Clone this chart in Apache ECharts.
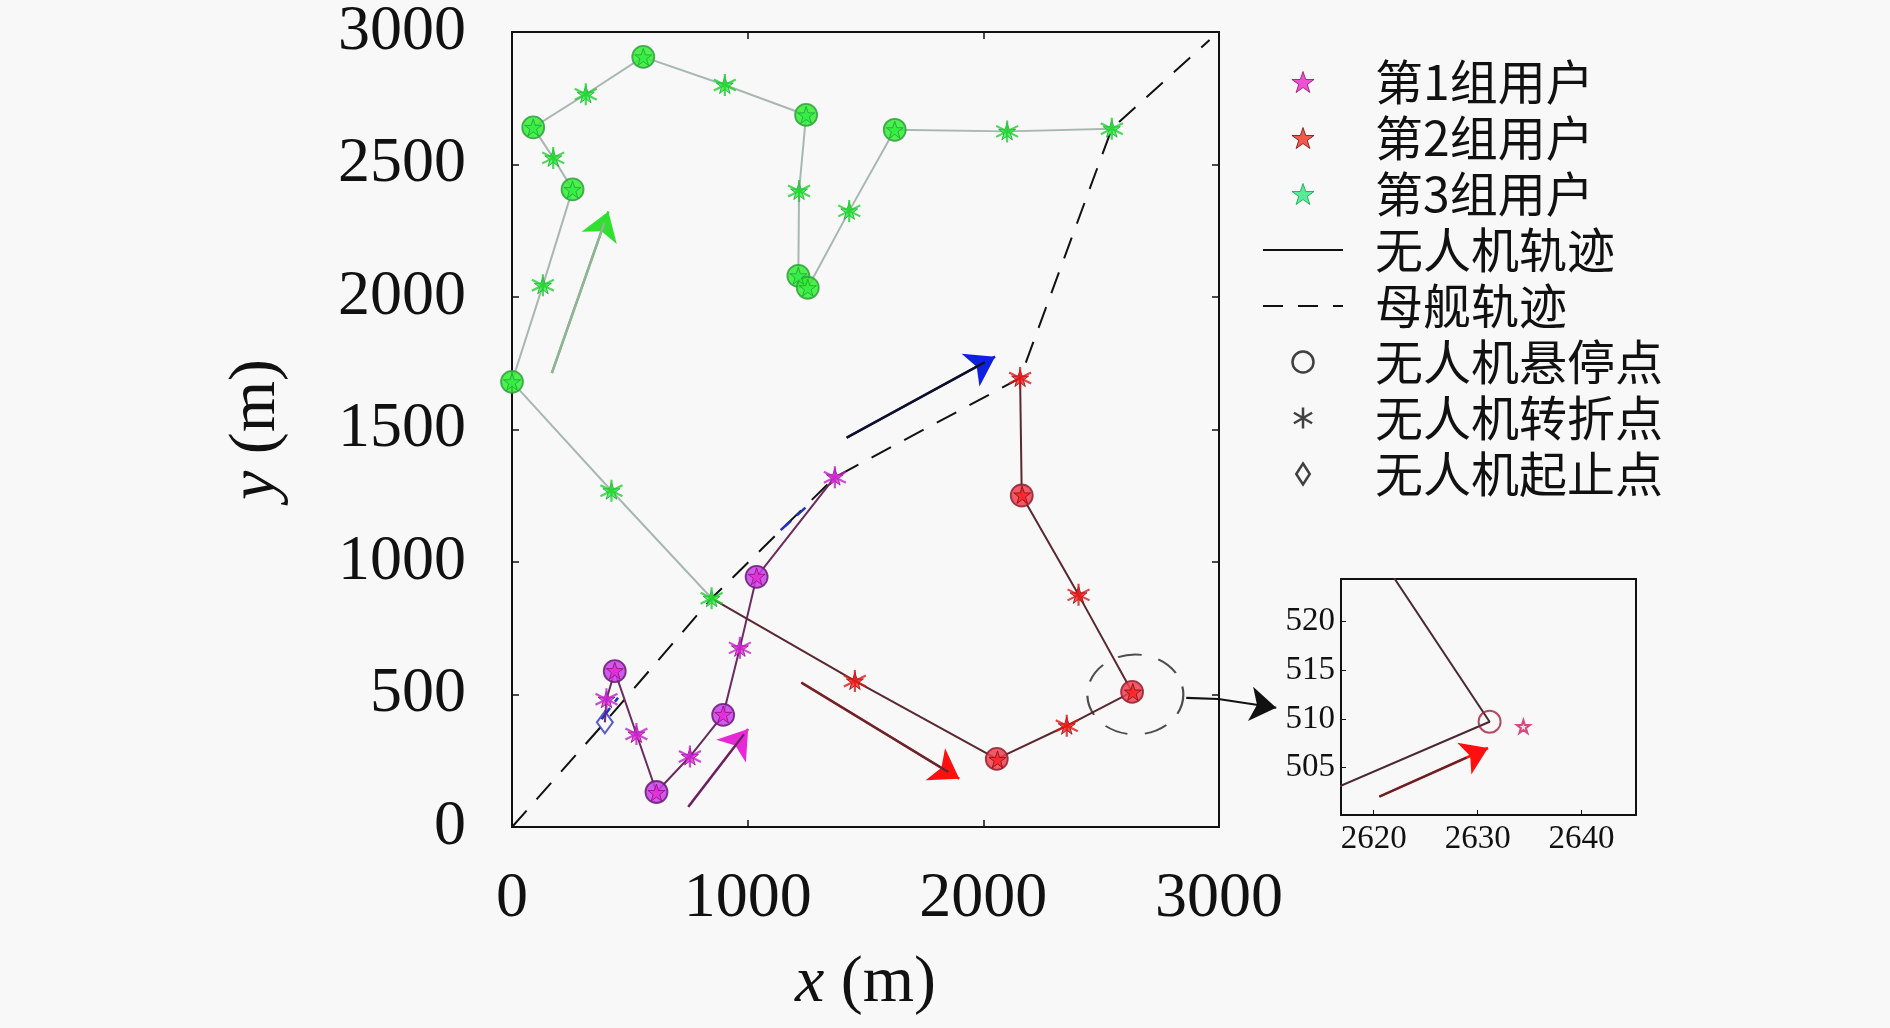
<!DOCTYPE html>
<html><head><meta charset="utf-8">
<script src="https://cdn.jsdelivr.net/npm/echarts@6/dist/echarts.min.js"></script>
<style>html,body{margin:0;padding:0;background:#f8f8f8}#c{width:1890px;height:1028px}</style>
</head><body><div id="c"></div><script>
// ---------- data ----------
const xTickValues = [0, 1000, 2000, 3000];
const yTickValues = [0, 500, 1000, 1500, 2000, 2500, 3000];
const insetXTicks = [2620, 2630, 2640];
const insetYTicks = [505, 510, 515, 520];

const motherPath = [[0,0],[394,395],[847,863],[1370,1320],[2156,1694],[2545,2635],[2960,2970]];
const motherBlueSegs = [[[380,407],[450,488]], [[1140,1120],[1245,1205]]];

const uav1Path  = [[394,395],[401,482],[436,588],[528,351],[613,132],[755,266],[896,423],[967,676],[1038,944],[1370,1320]];
const uav1Hover = [[436,588],[613,132],[896,423],[1038,944]];
const uav1Turn  = [[401,482],[528,351],[755,266],[967,676],[1370,1320]];
const uav1Start = [[394,395]];
const users1    = [[436,590],[613,130],[896,425],[1038,946],[401,482],[528,351],[755,266],[967,676],[1370,1322]];

const uav2Path  = [[847,863],[1455,551],[2057,257],[2354,382],[2631.15,509.7],[2404,876],[2163,1251],[2156,1694]];
const uav2Hover = [[2057,257],[2631.15,509.7],[2163,1251]];
const uav2Turn  = [[1455,551],[2354,382],[2404,876],[2156,1694]];
const users2    = [[1455,551],[2060,255],[2354,382],[2634.4,509.2],[2404,876],[2165,1253],[2156,1694]];

const uav3Path  = [[847,863],[422,1269],[0,1680],[131,2044],[257,2406],[175,2525],[90,2640],[313,2765],[557,2906],[903,2800],[1248,2687],[1218,2400],[1215,2080],[1255,2035],[1431,2325],[1624,2631],[2101,2625],[2545,2635]];
const uav3Hover = [[0,1680],[257,2406],[90,2640],[557,2906],[1248,2687],[1215,2080],[1255,2035],[1624,2631]];
const uav3Turn  = [[847,863],[422,1269],[131,2044],[175,2525],[313,2765],[903,2800],[1218,2400],[1431,2325],[2101,2625],[2545,2635]];
const users3    = [[847,863],[422,1269],[0,1680],[131,2044],[257,2406],[175,2525],[90,2640],[313,2765],[557,2906],[903,2800],[1248,2687],[1218,2400],[1215,2080],[1255,2035],[1431,2325],[1624,2631],[2101,2625],[2545,2635]];

const arrow1    = [[748,76],[1002,370]];
const arrow2    = [[1228,545],[1898,182]];
const arrow3    = [[169,1713],[409,2323]];
const arrowShip = [[1420,1469],[2050,1775]];
const insetArrow = [[2620.55,502.0],[2631.0,507.0]];
const zoomCenter = [[2645,500]];
const zoomLink  = [[2861,487],[2997,483],[3243,450]];

const legendNames = ['第1组用户','第2组用户','第3组用户','无人机轨迹','母舰轨迹','无人机悬停点','无人机转折点','无人机起止点'];

// ---------- styles ----------
const STAR = 'path://M50,0L61.8,35.3L98.9,35.3L68.9,57.1L80.3,92.7L50,70.9L19.7,92.7L31.1,57.1L1.1,35.3L38.2,35.3Z';
const AST = 'path://M10,0L10,20M1.34,5L18.66,15M1.34,15L18.66,5';
const DIAM = 'path://M10,0L19,14L10,28L1,14Z';
const SERIF = "'Liberation Serif','DejaVu Serif',serif";
const CJK = "'Noto Sans CJK SC','Noto Sans',sans-serif";
const G = [
  {star:'#e828d8', starB:'#901070', circ:'#c840ec', circB:'#6a1a70', line:'#6a2c60', ast:'#c020d0'},
  {star:'#ff2020', starB:'#801010', circ:'#f04050', circB:'#902030', line:'#5a2830', ast:'#e01818'},
  {star:'#30f040', starB:'#20a040', circ:'#30ee30', circB:'#30a040', line:'#a8b8b0', ast:'#20d030'}
];
const plain = v => String(v);

const chart = echarts.init(document.getElementById('c'));
const S = [];
const main = {xAxisIndex:0, yAxisIndex:0};
const ins = {xAxisIndex:2, yAxisIndex:2};

// mothership
S.push(Object.assign({type:'line', name:'母舰轨迹', data:motherPath, symbol:'none', z:2,
  lineStyle:{color:'#111', width:2, type:[22,15]}}, main));
S.push(Object.assign({type:'lines', coordinateSystem:'cartesian2d', z:3,
  data:motherBlueSegs.map(c=>({coords:c})), lineStyle:{color:'#2030c0', width:2.5, type:[14,8], opacity:1}}, main));

const paths = [uav1Path, uav2Path, uav3Path];
const hovers = [uav1Hover, uav2Hover, uav3Hover];
const turns = [uav1Turn, uav2Turn, uav3Turn];
const users = [users1, users2, users3];
paths.forEach((p,i)=>{
  S.push(Object.assign({type:'line', data:p, symbol:'none', z:4, lineStyle:{color:G[i].line, width:2}}, main));
});
function partial(seg, f){
  return [seg[0], [seg[0][0]+(seg[1][0]-seg[0][0])*f, seg[0][1]+(seg[1][1]-seg[0][1])*f]];
}
// arrows
[[arrow1,G[0].star,'#5a2a50'],[arrow2,'#ff1010','#5a2a30'],[arrow3,'#30e030','#a0aaa4'],[arrowShip,'#1020e0','#111']].forEach(a=>{
  S.push(Object.assign({type:'lines', coordinateSystem:'cartesian2d', z:5, symbol:['none','arrow'], symbolSize:[1,28],
    data:[{coords:a[0]}], lineStyle:{color:a[1], width:2.5, opacity:1}}, main));
  S.push(Object.assign({type:'lines', coordinateSystem:'cartesian2d', z:6, symbol:'none',
    data:[{coords:partial(a[0],0.93)}], lineStyle:{color:a[2], width:2.2, opacity:1}}, main));
});
hovers.forEach((h,i)=>{
  S.push(Object.assign({type:'scatter', data:h, symbol:'circle', symbolSize:22, clip:false, z:7,
    itemStyle:{color:G[i].circ, opacity:0.85, borderColor:G[i].circB, borderWidth:1.8}}, main));
});
users.forEach((u,i)=>{
  S.push(Object.assign({type:'scatter', name:legendNames[i], data:u, symbol:STAR, symbolSize:17, clip:false, z:8,
    itemStyle:{color:G[i].star, borderColor:G[i].starB, borderWidth:1}}, main));
});
turns.forEach((t,i)=>{
  S.push(Object.assign({type:'scatter', data:t, symbol:AST, symbolSize:22, clip:false, z:9,
    itemStyle:{color:'transparent', borderColor:G[i].ast, borderWidth:2.2}}, main));
});
S.push(Object.assign({type:'scatter', data:uav1Start, symbol:'diamond', symbolSize:[16,22], clip:false, z:9,
  itemStyle:{color:'rgba(0,0,0,0)', borderColor:'#3030c0', borderWidth:2}}, main));
// zoom ellipse and link arrow
S.push(Object.assign({type:'scatter', data:zoomCenter, symbol:'circle', symbolSize:[96,80], clip:false, z:3,
  itemStyle:{color:'rgba(0,0,0,0)', borderColor:'#222', borderWidth:2, borderType:[22,16]}}, main));
S.push(Object.assign({type:'lines', coordinateSystem:'cartesian2d', clip:false, z:3, symbol:'none',
  data:[{coords:[zoomLink[0], zoomLink[1]]}], lineStyle:{color:'#111', width:2.2, opacity:1}}, main));
S.push(Object.assign({type:'lines', coordinateSystem:'cartesian2d', clip:false, z:3,
  symbol:['none','arrow'], symbolSize:[1,26], data:[{coords:[zoomLink[1], zoomLink[2]]}], lineStyle:{color:'#111', width:2.2, opacity:1}}, main));

// inset
S.push(Object.assign({type:'line', data:uav2Path, symbol:'none', clip:true, z:4, lineStyle:{color:'#4a2a30', width:2}}, ins));
S.push(Object.assign({type:'scatter', data:uav2Hover, symbol:'circle', symbolSize:22, clip:true, z:5,
  itemStyle:{color:'rgba(0,0,0,0)', borderColor:'#a02040', borderWidth:2}}, ins));
S.push(Object.assign({type:'scatter', data:users2, symbol:STAR, symbolSize:13, clip:true, z:6,
  itemStyle:{color:'#f8d0e0', borderColor:'#d02060', borderWidth:2}}, ins));
S.push(Object.assign({type:'lines', coordinateSystem:'cartesian2d', z:5, symbol:['none','arrow'], symbolSize:[1,26],
  data:[{coords:insetArrow}], lineStyle:{color:'#ff1010', width:2.5, opacity:1}}, ins));
S.push(Object.assign({type:'lines', coordinateSystem:'cartesian2d', z:6, symbol:'none',
  data:[{coords:partial(insetArrow,0.8)}], lineStyle:{color:'#4a2a30', width:2, opacity:1}}, ins));

// legend dummies
S.push(Object.assign({type:'line', name:'无人机轨迹', data:[], symbol:'none', lineStyle:{color:'#111', width:2}}, main));
S.push(Object.assign({type:'scatter', name:'无人机悬停点', data:[]}, main));
S.push(Object.assign({type:'scatter', name:'无人机转折点', data:[]}, main));
S.push(Object.assign({type:'scatter', name:'无人机起止点', data:[]}, main));

const axLine = {show:true, onZero:false, lineStyle:{color:'#111', width:2}};
function mainAxis(pos, ticks, showLabel, extra){
  return Object.assign({type:'value', gridIndex:0, position:pos, min:0, max:3000,
    axisLine:axLine, splitLine:{show:false},
    axisTick:{show:true, inside:true, length:7, lineStyle:{color:'#111', width:1.5}, customValues:ticks},
    axisLabel:{show:showLabel, customValues:ticks, formatter:plain, fontFamily:SERIF, fontSize:64, color:'#111', margin: pos==='bottom'?40:46}
  }, extra||{});
}
const hide = {color:'rgba(0,0,0,0)', borderColor:'rgba(0,0,0,0)', borderWidth:0};
const legendData = [
  {name:'第1组用户', icon:STAR, itemStyle:{color:'#e828c8', borderColor:'#901070', borderWidth:1}},
  {name:'第2组用户', icon:STAR, itemStyle:{color:'#f03020', borderColor:'#701010', borderWidth:1}},
  {name:'第3组用户', icon:STAR, itemStyle:{color:'#30e880', borderColor:'#10a050', borderWidth:1}},
  {name:'无人机轨迹', itemStyle:hide, lineStyle:{color:'#111', width:2, type:'solid'}},
  {name:'母舰轨迹', itemStyle:hide, lineStyle:{color:'#111', width:2, type:[20,15]}},
  {name:'无人机悬停点', icon:'circle', itemStyle:{color:'rgba(0,0,0,0)', borderColor:'#111', borderWidth:2.5}},
  {name:'无人机转折点', icon:AST, itemStyle:{color:'rgba(0,0,0,0)', borderColor:'#111', borderWidth:2.5}},
  {name:'无人机起止点', icon:DIAM, itemStyle:{color:'rgba(0,0,0,0)', borderColor:'#111', borderWidth:2.5}}
];

chart.setOption({
  animation:false,
  backgroundColor:'#f8f8f8',
  grid:[
    {left:512, top:27, width:707, height:800},
    {left:1341, top:579, width:295, height:236}
  ],
  legend:{orient:'vertical', left:1262, top:54, padding:0, itemGap:0, itemWidth:80, itemHeight:21,
    selectedMode:false, data:legendData, symbolKeepAspect:true,
    textStyle:{fontFamily:CJK, fontSize:48, color:'#111', lineHeight:56, padding:[0,0,0,27]}},
  xAxis:[
    mainAxis('bottom', xTickValues, true, {name:'{i|x}{n| (m)}', nameLocation:'middle', nameGap:124,
      nameTextStyle:{rich:{i:{fontFamily:SERIF, fontStyle:'italic', fontSize:66, color:'#111'}, n:{fontFamily:SERIF, fontSize:66, color:'#111'}}}}),
    mainAxis('top', xTickValues, false),
    {type:'value', gridIndex:1, position:'bottom', min:2616.86, max:2645.23, axisLine:axLine, splitLine:{show:false},
      axisTick:{show:true, inside:true, length:5, customValues:insetXTicks, lineStyle:{color:'#111'}},
      axisLabel:{customValues:insetXTicks, formatter:plain, fontFamily:SERIF, fontSize:33, color:'#111', margin:8}},
    {type:'value', gridIndex:1, position:'top', min:2616.86, max:2645.23, axisLine:axLine, splitLine:{show:false},
      axisTick:{show:false}, axisLabel:{show:false}}
  ],
  yAxis:[
    mainAxis('left', yTickValues, true, {name:'{i|y}{n| (m)}', nameLocation:'middle', nameGap:222, nameRotate:90,
      nameTextStyle:{rich:{i:{fontFamily:SERIF, fontStyle:'italic', fontSize:66, color:'#111'}, n:{fontFamily:SERIF, fontSize:66, color:'#111'}}}}),
    mainAxis('right', yTickValues, false),
    {type:'value', gridIndex:1, position:'left', min:500.1, max:524.4, axisLine:axLine, splitLine:{show:false},
      axisTick:{show:true, inside:true, length:5, customValues:insetYTicks, lineStyle:{color:'#111'}},
      axisLabel:{customValues:insetYTicks, formatter:plain, fontFamily:SERIF, fontSize:33, color:'#111', margin:6}},
    {type:'value', gridIndex:1, position:'right', min:500.1, max:524.4, axisLine:axLine, splitLine:{show:false},
      axisTick:{show:false}, axisLabel:{show:false}}
  ],
  series:S
});
</script></body></html>
